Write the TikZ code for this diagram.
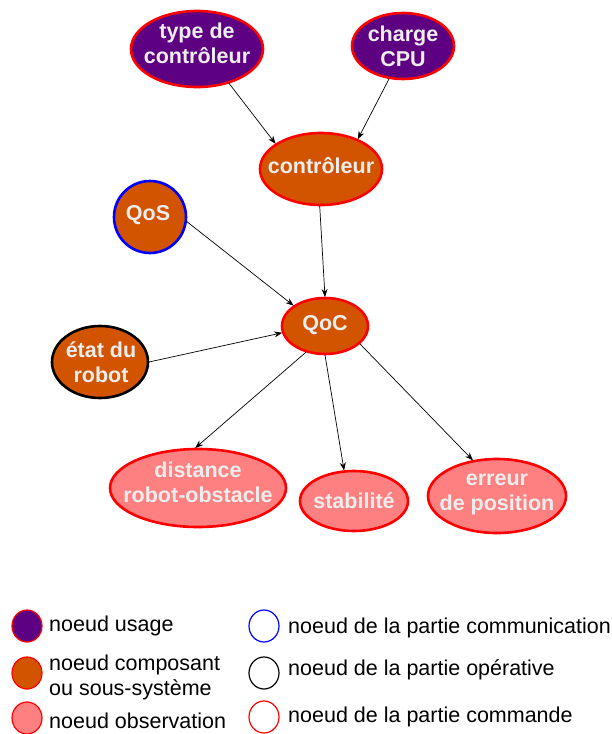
\documentclass[tikz,border=0pt]{standalone}
\usepackage{fontspec}
\setmainfont{Liberation Sans}
\usetikzlibrary{shapes.geometric,arrows.meta}
\definecolor{usagec}{HTML}{5E0082}
\definecolor{compc}{HTML}{D35400}
\definecolor{obsc}{HTML}{FF8080}
\definecolor{txtc}{HTML}{EEEEEE}
\tikzset{
  nd/.style={ellipse, inner sep=0pt, outer sep=1pt, line width=2.6pt},
  usage/.style={nd, fill=usagec},
  comp/.style={nd, fill=compc},
  obs/.style={nd, fill=obsc},
  cmd/.style={draw=red},
  comm/.style={draw=blue},
  oper/.style={draw=black},
  lbl/.style={inner sep=0pt, text=txtc, align=center,
     font=\fontsize{21.5}{25}\selectfont\bfseries},
  arr/.style={-{Stealth[length=8pt,width=6pt]}, line width=0.7pt, black},
  leg/.style={ellipse, inner sep=0pt, minimum width=30pt, minimum height=32pt, line width=1.2pt},
  legt/.style={anchor=west, inner sep=0pt, align=left, font=\fontsize{21.5}{25}\selectfont}
}
\begin{document}
\begin{tikzpicture}[x=1pt,y=-1pt]
\useasboundingbox (0,0) rectangle (612,734);
% nodes
\node[usage,cmd,minimum width=132pt,minimum height=76pt] (type) at (197,49) {};
\node[lbl] (typet) at (197,43) {type de\\contrôleur};
\node[usage,cmd,minimum width=102pt,minimum height=66pt] (cpu) at (403,46) {};
\node[lbl] (cput) at (403,46) {charge\\CPU};
\node[comp,cmd,minimum width=122pt,minimum height=72pt] (ctrl) at (321,169) {};
\node[lbl] (ctrlt) at (321,166) {contrôleur};
\node[comp,comm,minimum width=72pt,minimum height=72pt] (qos) at (150,217) {};
\node[lbl] (qost) at (148,215) {QoS};
\node[comp,cmd,minimum width=86pt,minimum height=56pt] (qoc) at (325,326) {};
\node[lbl] (qoct) at (325,325) {QoC};
\node[comp,oper,minimum width=96pt,minimum height=72pt] (etat) at (100,362) {};
\node[lbl] (etatt) at (101,362) {état du\\robot};
\node[obs,cmd,minimum width=176pt,minimum height=78pt] (dist) at (198,488) {};
\node[lbl] (distt) at (198,482) {distance\\robot-obstacle};
\node[obs,cmd,minimum width=108pt,minimum height=60pt] (stab) at (354,501) {};
\node[lbl] (stabt) at (354,501) {stabilité};
\node[obs,cmd,minimum width=138pt,minimum height=74pt] (err) at (497,496) {};
\node[lbl] (errt) at (497,494) {erreur\\de position};
% connectors
\draw[arr] (type.-47) -- (ctrl.151);
\draw[arr] (cpu.-113) -- (ctrl.39);
\draw[arr] (ctrl.-92) -- (qoc.90);
\draw[arr] (qos.-7) -- (qoc.147);
\draw[arr] (etat.0) -- (qoc.189);
\draw[arr] (qoc.-126) -- (dist.94);
\draw[arr] (qoc.-90) -- (stab.108);
\draw[arr] (qoc.-27) -- (err.124);
% legend
\node[leg,draw=red,fill=usagec] (l1) at (27,626) {};
\node[legt] (t1) at (49,626) {noeud usage};
\node[leg,draw=red,fill=compc] (l2) at (27,673) {};
\node[legt] (t2) at (49,677) {noeud composant\\ou sous-système};
\node[leg,draw=red,fill=obsc] (l3) at (27,718) {};
\node[legt] (t3) at (49,721) {noeud observation};
\node[leg,draw=blue] (l4) at (264,626) {};
\node[legt] (t4) at (288,628) {noeud de la partie communication};
\node[leg,draw=black] (l5) at (264,673) {};
\node[legt] (t5) at (288,670) {noeud de la partie opérative};
\node[leg,draw=red] (l6) at (264,717) {};
\node[legt] (t6) at (288,717) {noeud de la partie commande};
\end{tikzpicture}
\end{document}
